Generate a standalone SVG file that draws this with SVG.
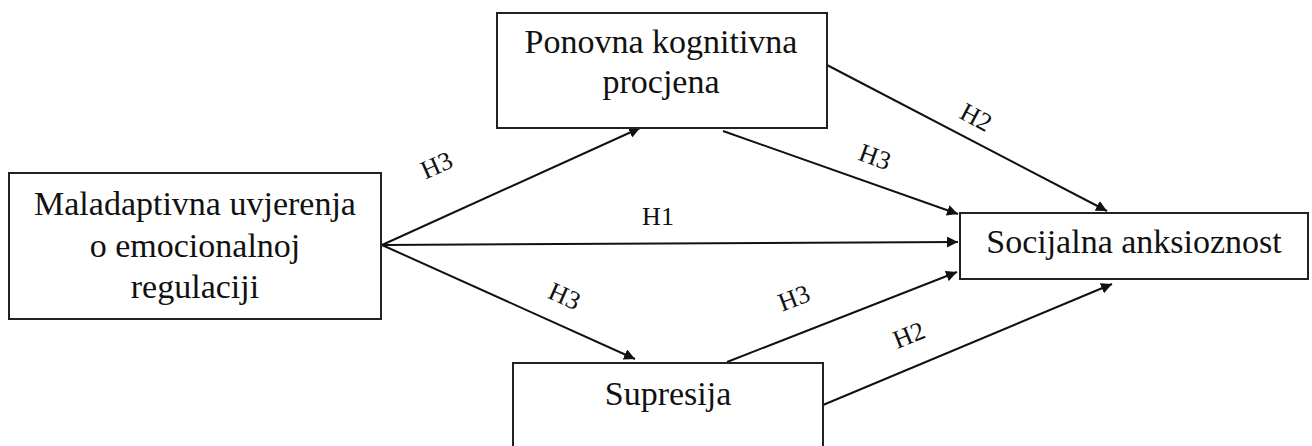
<svg xmlns="http://www.w3.org/2000/svg" width="1312" height="446" viewBox="0 0 1312 446">
<style>
.box{fill:#fff;stroke:#222;stroke-width:2}
.t{font-family:"Liberation Serif","Times New Roman",serif;font-size:34px;fill:#111;text-anchor:middle}
.l{font-family:"Liberation Serif","Times New Roman",serif;font-size:26px;fill:#111;text-anchor:middle}
.c{stroke:#111;stroke-width:2;fill:none;marker-end:url(#ah)}
</style>
<defs>
<marker id="ah" viewBox="0 0 10 10" refX="10" refY="5" markerWidth="11" markerHeight="11" markerUnits="userSpaceOnUse" orient="auto">
<path d="M0,0 L10,5 L0,10 z" fill="#111"/>
</marker>
</defs>
<rect width="1312" height="446" fill="#fff"/>
<g id="connectors">
<line class="c" x1="382" y1="245" x2="640" y2="128"/>
<line class="c" x1="382" y1="245" x2="958" y2="242"/>
<line class="c" x1="382" y1="245" x2="635" y2="359"/>
<line class="c" x1="723" y1="131" x2="958" y2="214"/>
<line class="c" x1="827" y1="65" x2="1107" y2="211"/>
<line class="c" x1="727" y1="362" x2="957" y2="272"/>
<line class="c" x1="823" y1="405" x2="1112" y2="284"/>
<text class="l" transform="translate(440,173) rotate(-24)">H3</text>
<text class="l" x="658" y="225">H1</text>
<text class="l" transform="translate(872,165) rotate(20)">H3</text>
<text class="l" transform="translate(972,125) rotate(28)">H2</text>
<text class="l" transform="translate(561,304) rotate(24)">H3</text>
<text class="l" transform="translate(797,306) rotate(-21)">H3</text>
<text class="l" transform="translate(912,343) rotate(-22)">H2</text>
</g>
<g id="n-mal">
<rect class="box" x="9" y="173" width="372" height="146"/>
<text class="t" x="195" y="215">Maladaptivna uvjerenja</text>
<text class="t" x="195" y="257">o emocionalnoj</text>
<text class="t" x="195" y="298">regulaciji</text>
</g>
<g id="n-pon">
<rect class="box" x="497" y="13" width="330" height="115"/>
<text class="t" x="661" y="53">Ponovna kognitivna</text>
<text class="t" x="661" y="93">procjena</text>
</g>
<g id="n-sup">
<rect class="box" x="513" y="363" width="310" height="100"/>
<text class="t" x="668" y="405">Supresija</text>
</g>
<g id="n-soc">
<rect class="box" x="960" y="213" width="348" height="66"/>
<text class="t" x="1134" y="253">Socijalna anksioznost</text>
</g>
</svg>
